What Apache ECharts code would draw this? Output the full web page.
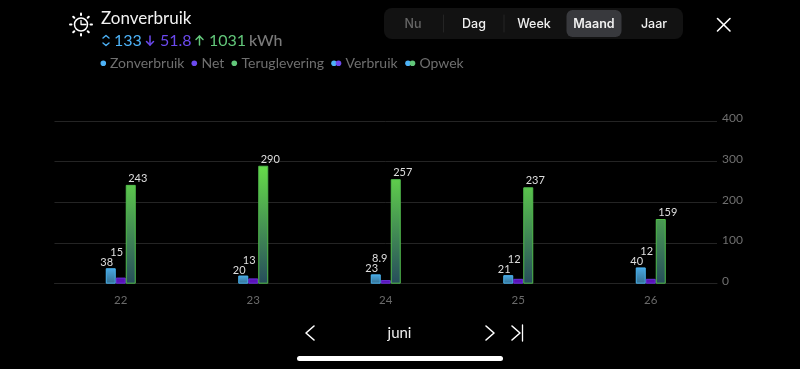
<!DOCTYPE html>
<html>
<head>
<meta charset="utf-8">
<script src="https://cdn.jsdelivr.net/npm/echarts@6/dist/echarts.min.js"></script>
<style>
  html, body { margin: 0; padding: 0; background: #000; }
  #chart { width: 800px; height: 369px; }
</style>
</head>
<body>
<div id="chart"></div>
<script>
var days = ['22', '23', '24', '25', '26']
var zonverbruik = [38, 20, 23, 21, 40]
var net = [15, 13, 8.9, 12, 12]
var teruglevering = [243, 290, 257, 237, 159]
var yTicks = [0, 100, 200, 300, 400]
var tabs = ['Nu', 'Dag', 'Week', 'Maand', 'Jaar']
var tabCenters = [413, 474, 534, 594, 654]

var headFont = 'Lato'
var uiFont = 'Inter'
var gridTop = 121
var gridHeight = 162.7
var pxPerUnit = gridHeight / 400

function line(points, color, width) {
  return {
    type: 'polyline',
    shape: { points: points },
    style: { stroke: color, lineWidth: width || 1.6, fill: null, lineCap: 'round', lineJoin: 'round' },
    silent: true
  }
}
function text(x, y, str, color, size, font, extra) {
  var style = { x: x, y: y, text: str, fill: color, fontSize: size, fontFamily: font || headFont, verticalAlign: 'middle' }
  if (extra) for (var k in extra) style[k] = extra[k]
  return { type: 'text', style: style, silent: true }
}
function dot(x, y, color, r) {
  return { type: 'circle', shape: { cx: x, cy: y, r: r || 2.8 }, style: { fill: color }, silent: true }
}

// header icon, sun with a clock in it
var icon = [
  { type: 'circle', shape: { cx: 81, cy: 24.5, r: 6.5 }, style: { stroke: '#fff', lineWidth: 1.5, fill: null } },
  line([[81, 20.5], [81, 24.5], [86, 24.5]], '#fff', 1.3),
  line([[81, 13.5], [81, 15]], '#fff', 2),
  line([[81, 34], [81, 35.5]], '#fff', 2),
  line([[70, 24.5], [71.5, 24.5]], '#fff', 2),
  line([[90.5, 24.5], [92, 24.5]], '#fff', 2),
  line([[73.2, 16.7], [74.3, 17.8]], '#fff', 2),
  line([[88.8, 16.7], [87.7, 17.8]], '#fff', 2),
  line([[73.2, 32.3], [74.3, 31.2]], '#fff', 2),
  line([[88.8, 32.3], [87.7, 31.2]], '#fff', 2)
]

var header = [
  text(101, 18.5, 'Zonverbruik', '#f2f2f2', 17),
  line([[103, 38], [106, 35.5], [109, 38]], '#4db2f7', 1.4),
  line([[103, 43], [106, 45.5], [109, 43]], '#4db2f7', 1.4),
  text(114, 40.5, '133', '#4db2f7', 16),
  line([[150, 36], [150, 45]], '#6b49ee', 1.5),
  line([[146.5, 41.5], [150, 45], [153.5, 41.5]], '#6b49ee', 1.5),
  text(160, 40.5, '51.8', '#6b49ee', 16),
  line([[199.5, 36], [199.5, 45]], '#62c77a', 1.5),
  line([[196, 39.5], [199.5, 36], [203, 39.5]], '#62c77a', 1.5),
  text(209, 40.5, '1031', '#62c77a', 16),
  text(249, 40.5, 'kWh', '#7a7a7a', 16, headFont, { fontWeight: 500 })
]

var legendRow = [
  dot(103.3, 63.3, '#4db2f7'),
  text(110, 63.3, 'Zonverbruik', '#6f6f6f', 14),
  dot(194.3, 63.3, '#6b49ee'),
  text(201.5, 63.3, 'Net', '#6f6f6f', 14),
  dot(234.3, 63.3, '#62c77a'),
  text(241.5, 63.3, 'Teruglevering', '#6f6f6f', 14),
  dot(334, 63.3, '#4db2f7'), dot(338.5, 63.3, '#6b49ee'),
  text(345.5, 63.3, 'Verbruik', '#6f6f6f', 14),
  dot(408, 63.3, '#4db2f7'), dot(412.5, 63.3, '#62c77a'),
  text(419.5, 63.3, 'Opwek', '#6f6f6f', 14)
]

var tabBar = [
  { type: 'rect', shape: { x: 384, y: 8, width: 299, height: 31, r: 8 }, style: { fill: '#121212' } },
  { type: 'rect', shape: { x: 566.5, y: 10, width: 55, height: 27, r: 6 }, style: { fill: '#38393d' } },
  line([[443.5, 15], [443.5, 32]], '#242424', 1),
  line([[504, 15], [504, 32]], '#242424', 1)
]
tabs.forEach(function(t, i) {
  tabBar.push(text(tabCenters[i], 24, t, i == 0 ? '#666' : '#f0f0f0', 12.5, uiFont, { align: 'center', fontWeight: i == 3 ? 600 : 500 }))
})

var nav = [
  line([[717.5, 18.5], [730, 31]], '#fff', 1.6),
  line([[730, 18.5], [717.5, 31]], '#fff', 1.6),
  line([[314, 326], [306, 333], [314, 340]], '#fff', 1.6),
  text(399.5, 333, 'juni', '#ededed', 15, headFont, { align: 'center' }),
  line([[486, 326], [494, 333], [486, 340]], '#fff', 1.6),
  line([[512, 326], [520, 333], [512, 340]], '#fff', 1.6),
  line([[522.5, 325], [522.5, 341]], '#fff', 1.3),
  { type: 'rect', shape: { x: 297, y: 356, width: 206, height: 5, r: 2.5 }, style: { fill: '#fff' } }
]

function label(dx, dy) {
  return {
    show: true,
    position: 'top',
    distance: 1,
    offset: [dx, dy],
    color: '#dedede',
    fontSize: 11,
    fontFamily: 'Lato'
  }
}

var chart = echarts.init(document.getElementById('chart'))
var option = {
  animation: false,
  backgroundColor: '#000',
  grid: { left: 54.5, width: 662.5, top: gridTop, height: gridHeight },
  xAxis: {
    type: 'category',
    data: days,
    axisTick: { show: false },
    axisLine: { lineStyle: { color: '#242424' } },
    axisLabel: { color: '#6a6a6a', fontSize: 11.5, fontFamily: headFont, margin: 11 }
  },
  yAxis: {
    type: 'value',
    position: 'right',
    min: yTicks[0],
    max: yTicks[yTicks.length - 1],
    interval: 100,
    axisLine: { show: false },
    axisTick: { show: false },
    splitLine: { lineStyle: { color: '#242424' } },
    axisLabel: { color: '#6f6f6f', fontSize: 12, fontFamily: headFont, margin: 5, verticalAlign: 'bottom', lineHeight: 5 }
  },
  series: [
    {
      name: 'Zonverbruik',
      type: 'bar',
      barWidth: 10,
      barGap: 0,
      itemStyle: {
        color: new echarts.graphic.LinearGradient(0, 0, 0, 1, [
          { offset: 0, color: '#4aa9e4' }, { offset: 1, color: '#346f90' }
        ]),
        borderColor: '#4ab4f0',
        borderWidth: 1
      },
      label: label(-4, 1),
      data: zonverbruik
    },
    {
      name: 'Net',
      type: 'bar',
      barWidth: 10,
      itemStyle: { color: '#5a12b8', borderColor: '#6b30dc', borderWidth: 1 },
      // sits one line above the neighbouring Zonverbruik label
      data: net.map(function(v, i) {
        return { value: v, label: label(String(v).length > 2 ? -6 : -4, -(zonverbruik[i] - v) * pxPerUnit - 9) }
      })
    },
    {
      name: 'Teruglevering',
      type: 'bar',
      barWidth: 10,
      itemStyle: {
        color: { type: 'linear', x: 0, y: 170, x2: 0, y2: 284, global: true, colorStops: [
          { offset: 0, color: '#64d84a' }, { offset: 1, color: '#264c5c' }
        ] },
        borderColor: '#52bd4c',
        borderWidth: 1
      },
      label: label(7, 0),
      data: teruglevering
    }
  ],
  graphic: { elements: icon.concat(header, legendRow, tabBar, nav) }
}
chart.setOption(option)
</script>
</body>
</html>
